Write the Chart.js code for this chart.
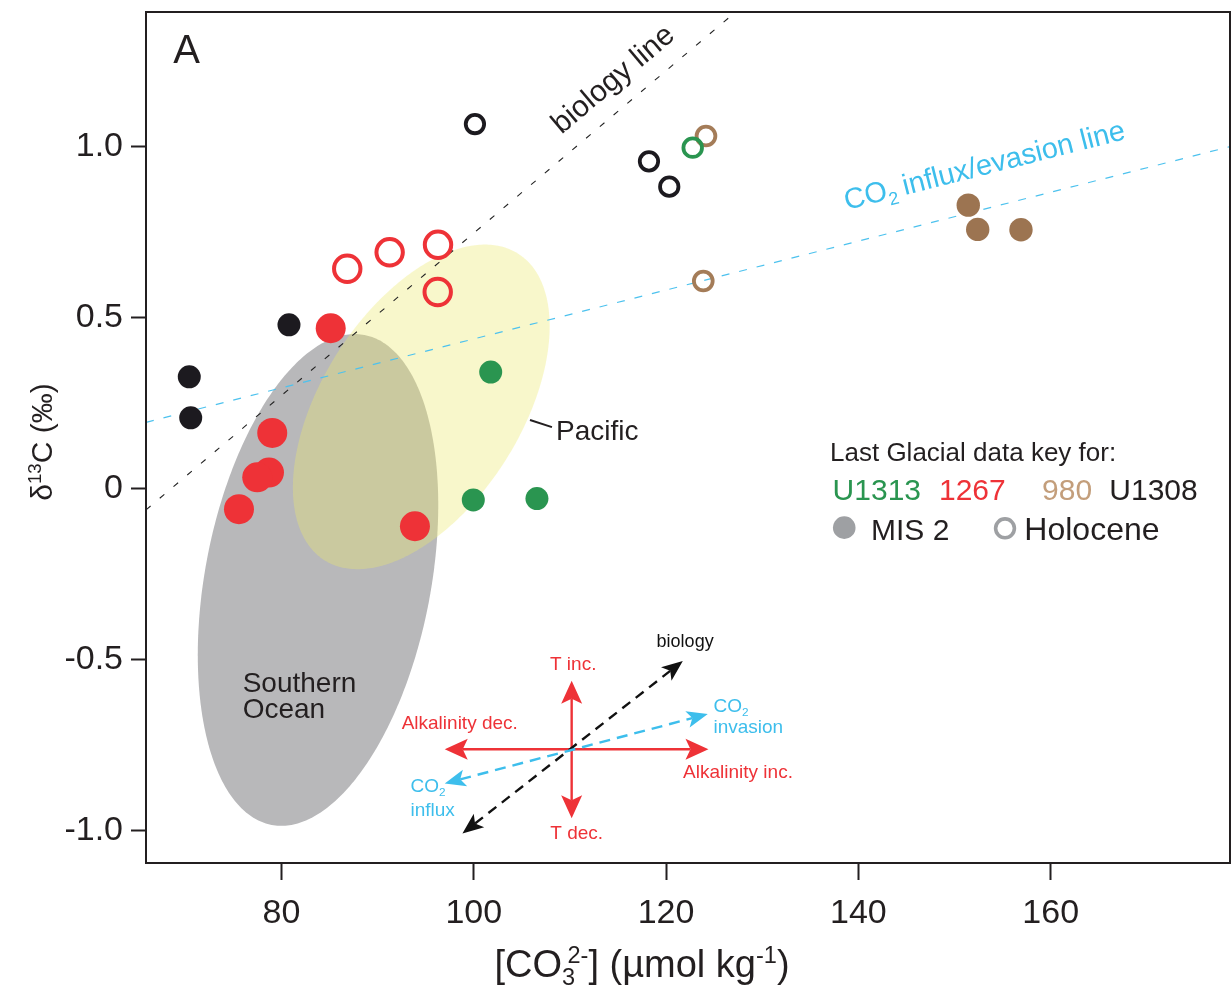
<!DOCTYPE html>
<html><head><meta charset="utf-8">
<script src="https://cdn.jsdelivr.net/npm/chart.js@4.4.1/dist/chart.umd.min.js"></script>
<style>html,body{margin:0;padding:0;background:#fff;overflow:hidden}#wrap{width:1231px;height:986px;position:relative}</style>
</head><body><div id="wrap"><canvas id="c"></canvas></div>
<script>
// ---------------- data ----------------
const xTickValues = [80, 100, 120, 140, 160];
const yTickValues = [-1.0, -0.5, 0, 0.5, 1.0];
const yTickLabels = ['-1.0', '-0.5', '0', '0.5', '1.0'];

// Last Glacial (MIS 2), filled symbols
const u1313MisX = [101.76, 99.95, 106.57];
const u1313MisY = [0.342, -0.032, -0.028];
const s1267MisX = [85.12, 79.04, 78.70, 77.48, 75.58, 93.88];
const s1267MisY = [0.470, 0.164, 0.048, 0.034, -0.059, -0.109];
const s980MisX = [151.43, 152.41, 156.91];
const s980MisY = [0.830, 0.759, 0.758];
const u1308MisX = [70.41, 70.56, 80.78];
const u1308MisY = [0.328, 0.208, 0.480];

// Holocene, open symbols
const u1313HolX = [122.77];
const u1313HolY = [0.998];
const s1267HolX = [86.84, 91.25, 96.28, 96.25];
const s1267HolY = [0.644, 0.692, 0.714, 0.576];
const s980HolX = [124.15, 123.87];
const s980HolY = [1.032, 0.608];
const u1308HolX = [100.12, 118.22, 120.33];
const u1308HolY = [1.067, 0.958, 0.884];

// reference lines (end points)
const biologyLineX = [65.91, 127.2];
const biologyLineY = [-0.061, 1.394];
const co2LineX = [65.91, 178.65];
const co2LineY = [0.195, 1.001];

// water-mass regions: centre, upper conjugate radius (u), horizontal conjugate radius (v)
const southernOcean = {cx: 83.80, cy: -0.266, ux: 3.81, uy: 0.719, vx: 11.91, vy: 0};
const pacific = {cx: 94.54, cy: 0.240, ux: 6.63, uy: 0.4746, vx: 11.59, vy: 0};

// ---------------- styles ----------------
const F = "'Liberation Sans', Arial, Helvetica, sans-serif";
const INK = '#231F20';
const RED = '#EE3237';
const GREEN = '#2A9550';
const BROWN = '#9C7451';
const BROWN_OPEN = '#A47C58';
const TAN = '#C39E7B';
const BLACK = '#1C1A1F';
const BLUE = '#3DBEEC';
const LEG_GRAY = '#9EA0A3';

const X_MIN = 65.91, X_MAX = 178.65, Y_MIN = -1.0936, Y_MAX = 1.3947;

function pts(xs, ys) { return xs.map((x, i) => ({x: x, y: ys[i]})); }
function fnt(sz, w) { return (w || 'normal') + ' ' + sz + 'px ' + F; }

function drawRich(ctx, parts, x, y, size, color, align) {
  let total = 0; const m = [];
  for (const p of parts) {
    const s = (p.sub || p.sup) ? size * 0.62 : size;
    ctx.font = fnt(s);
    const w = ctx.measureText(p.t).width;
    m.push({p, s, w});
    total += w + (p.dx || 0) * size;
  }
  let cx = align === 'center' ? x - total / 2 : (align === 'right' ? x - total : x);
  ctx.fillStyle = color; ctx.textBaseline = 'alphabetic'; ctx.textAlign = 'left';
  for (const {p, s, w} of m) {
    cx += (p.dx || 0) * size;
    ctx.font = fnt(s);
    const dy = p.sub ? size * 0.22 : (p.sup ? -size * 0.37 : 0);
    ctx.fillText(p.t, cx, y + dy);
    cx += w;
  }
}

function arrowHead(ctx, tx, ty, ang, len, hw, notch) {
  const c = Math.cos(ang), s = Math.sin(ang);
  const bx = tx - c * len, by = ty - s * len;
  ctx.beginPath();
  ctx.moveTo(tx, ty);
  ctx.lineTo(bx - s * hw, by + c * hw);
  ctx.lineTo(tx - c * (len - notch), ty - s * (len - notch));
  ctx.lineTo(bx + s * hw, by - c * hw);
  ctx.closePath();
  ctx.fill();
}

function doubleArrow(ctx, x1, y1, x2, y2, color, lw, dash, len, hw, notch) {
  const ang = Math.atan2(y2 - y1, x2 - x1);
  const c = Math.cos(ang), s = Math.sin(ang);
  ctx.save();
  ctx.strokeStyle = color; ctx.fillStyle = color; ctx.lineWidth = lw;
  ctx.setLineDash(dash);
  ctx.beginPath();
  ctx.moveTo(x1 + c * (len - notch), y1 + s * (len - notch));
  ctx.lineTo(x2 - c * (len - notch), y2 - s * (len - notch));
  ctx.stroke();
  ctx.setLineDash([]);
  arrowHead(ctx, x2, y2, ang, len, hw, notch);
  arrowHead(ctx, x1, y1, ang + Math.PI, len, hw, notch);
  ctx.restore();
}

const regionsPlugin = {
  id: 'regions',
  beforeDatasetsDraw(chart) {
    const ctx = chart.ctx, xs = chart.scales.x, ys = chart.scales.y, a = chart.chartArea;
    ctx.save();
    ctx.beginPath(); ctx.rect(a.left, a.top, a.right - a.left, a.bottom - a.top); ctx.clip();
    const drawEll = (e, fill) => {
      ctx.beginPath();
      for (let k = 0; k <= 360; k++) {
        const t = k / 360 * 2 * Math.PI;
        const px = xs.getPixelForValue(e.cx + e.ux * Math.cos(t) + e.vx * Math.sin(t));
        const py = ys.getPixelForValue(e.cy + e.uy * Math.cos(t) + e.vy * Math.sin(t));
        if (k === 0) ctx.moveTo(px, py); else ctx.lineTo(px, py);
      }
      ctx.closePath(); ctx.fillStyle = fill; ctx.fill();
    };
    drawEll(southernOcean, '#B8B8BA');
    drawEll(pacific, 'rgba(236,233,112,0.36)');
    ctx.restore();
  },
  afterDatasetsDraw(chart) {
    const ctx = chart.ctx, xs = chart.scales.x, ys = chart.scales.y;
    const P = (x, y) => [xs.getPixelForValue(x), ys.getPixelForValue(y)];
    ctx.save();
    // panel letter
    let p = P(68.75, 1.2465);
    ctx.font = fnt(40); ctx.fillStyle = INK; ctx.textAlign = 'left'; ctx.textBaseline = 'alphabetic';
    ctx.fillText('A', p[0], p[1]);

    // biology line label
    const b1 = P(biologyLineX[0], biologyLineY[0]), b2 = P(biologyLineX[1], biologyLineY[1]);
    const bang = Math.atan2(b2[1] - b1[1], b2[0] - b1[0]);
    p = P(114.53, 1.196);
    ctx.save(); ctx.translate(p[0], p[1]); ctx.rotate(bang);
    ctx.font = fnt(30); ctx.fillStyle = INK; ctx.textAlign = 'center'; ctx.textBaseline = 'middle';
    ctx.fillText('biology line', 0, 0);
    ctx.restore();

    // CO2 line label
    const c1 = P(co2LineX[0], co2LineY[0]), c2 = P(co2LineX[1], co2LineY[1]);
    const cang = Math.atan2(c2[1] - c1[1], c2[0] - c1[0]);
    p = P(138.78, 0.816);
    ctx.save(); ctx.translate(p[0], p[1]); ctx.rotate(cang);
    drawRich(ctx, [{t: 'CO'}, {t: '2', sub: 1}, {t: ' influx/evasion line', dx: -0.05}], 0, 0, 29, BLUE, 'left');
    ctx.restore();

    // Pacific label + leader
    const l1 = P(105.85, 0.2018), l2 = P(108.13, 0.181);
    ctx.strokeStyle = INK; ctx.lineWidth = 2;
    ctx.beginPath(); ctx.moveTo(l1[0], l1[1]); ctx.lineTo(l2[0], l2[1]); ctx.stroke();
    p = P(108.55, 0.143);
    ctx.font = fnt(28); ctx.fillStyle = INK; ctx.textAlign = 'left'; ctx.textBaseline = 'alphabetic';
    ctx.fillText('Pacific', p[0], p[1]);

    // Southern Ocean label
    p = P(75.96, -0.593); ctx.fillText('Southern', p[0], p[1]);
    p = P(75.96, -0.670); ctx.fillText('Ocean', p[0], p[1]);

    // legend key
    p = P(137.05, 0.0827); ctx.font = fnt(26); ctx.fillStyle = INK;
    ctx.fillText('Last Glacial data key for:', p[0], p[1]);
    ctx.font = fnt(30);
    p = P(137.32, -0.0322); ctx.fillStyle = GREEN; ctx.fillText('U1313', p[0], p[1]);
    p = P(148.38, -0.0322); ctx.fillStyle = RED; ctx.fillText('1267', p[0], p[1]);
    p = P(159.10, -0.0322); ctx.fillStyle = TAN; ctx.fillText('980', p[0], p[1]);
    p = P(166.10, -0.0322); ctx.fillStyle = INK; ctx.fillText('U1308', p[0], p[1]);
    p = P(138.53, -0.113);
    ctx.fillStyle = LEG_GRAY; ctx.beginPath(); ctx.arc(p[0], p[1], 11.3, 0, 2 * Math.PI); ctx.fill();
    p = P(141.31, -0.149); ctx.fillStyle = INK; ctx.fillText('MIS 2', p[0], p[1]);
    p = P(155.25, -0.115);
    ctx.strokeStyle = LEG_GRAY; ctx.lineWidth = 3.6; ctx.beginPath(); ctx.arc(p[0], p[1], 9.4, 0, 2 * Math.PI); ctx.stroke();
    p = P(157.26, -0.149); ctx.fillStyle = INK; ctx.font = fnt(32); ctx.fillText('Holocene', p[0], p[1]);

    // process diagram
    let q1 = P(96.98, -0.761), q2 = P(124.41, -0.761);
    doubleArrow(ctx, q1[0], q1[1], q2[0], q2[1], RED, 2.4, [], 23, 10.5, 5);
    q1 = P(110.18, -0.561); q2 = P(110.18, -0.963);
    doubleArrow(ctx, q1[0], q1[1], q2[0], q2[1], RED, 2.4, [], 23, 10.5, 5);
    q1 = P(98.82, -1.007); q2 = P(121.74, -0.503);
    doubleArrow(ctx, q1[0], q1[1], q2[0], q2[1], '#111', 2.4, [10, 7], 21, 8.5, 5);
    q1 = P(96.98, -0.861); q2 = P(124.34, -0.658);
    doubleArrow(ctx, q1[0], q1[1], q2[0], q2[1], BLUE, 2.4, [11, 7], 21, 8.5, 5);

    ctx.textBaseline = 'middle'; ctx.textAlign = 'center';
    ctx.font = fnt(18); ctx.fillStyle = '#111';
    p = P(121.98, -0.4465); ctx.fillText('biology', p[0], p[1]);
    ctx.font = fnt(19); ctx.fillStyle = RED;
    p = P(110.34, -0.5146); ctx.fillText('T inc.', p[0], p[1]);
    p = P(110.70, -1.0067); ctx.fillText('T dec.', p[0], p[1]);
    p = P(98.54, -0.687); ctx.fillText('Alkalinity dec.', p[0], p[1]);
    p = P(127.48, -0.831); ctx.fillText('Alkalinity inc.', p[0], p[1]);
    p = P(124.93, -0.6316);
    drawRich(ctx, [{t: 'CO'}, {t: '2', sub: 1}], p[0], p[1] + 7, 19, BLUE, 'left');
    p = P(124.93, -0.6968);
    ctx.font = fnt(19); ctx.fillStyle = BLUE; ctx.textAlign = 'left'; ctx.textBaseline = 'middle';
    ctx.fillText('invasion', p[0], p[1]);
    p = P(93.41, -0.8655);
    drawRich(ctx, [{t: 'CO'}, {t: '2', sub: 1}], p[0], p[1] + 7, 19, BLUE, 'left');
    p = P(93.41, -0.9406);
    ctx.font = fnt(19); ctx.fillStyle = BLUE; ctx.textAlign = 'left'; ctx.textBaseline = 'middle';
    ctx.fillText('influx', p[0], p[1]);
    ctx.restore();
  },
  afterDraw(chart) {
    const ctx = chart.ctx, a = chart.chartArea;
    ctx.save();
    ctx.strokeStyle = INK; ctx.lineWidth = 2;
    ctx.strokeRect(a.left, a.top, a.right - a.left, a.bottom - a.top);
    // x title
    drawRich(ctx, [{t: '[CO'}, {t: '3', sub: 1}, {t: '2-', sup: 1, dx: -0.2}, {t: '] (\u00B5mol kg'}, {t: '-1', sup: 1}, {t: ')'}],
      642, 977, 38, INK, 'center');
    // y title
    ctx.translate(52, 442); ctx.rotate(-Math.PI / 2);
    drawRich(ctx, [{t: '\u03B4'}, {t: '13', sup: 1}, {t: 'C (\u2030)'}], 0, 0, 30, INK, 'center');
    ctx.restore();
  }
};

const scatterDs = (label, xs, ys, color, r, open, bw) => ({
  label: label, type: 'scatter', data: pts(xs, ys), order: 1,
  pointRadius: r, pointHoverRadius: r,
  pointBackgroundColor: open ? 'rgba(0,0,0,0)' : color,
  pointBorderColor: color, pointBorderWidth: open ? bw : 0
});

const datasets = [
  scatterDs('U1313 MIS 2', u1313MisX, u1313MisY, GREEN, 11.5, false),
  scatterDs('1267 MIS 2', s1267MisX, s1267MisY, RED, 15, false),
  scatterDs('980 MIS 2', s980MisX, s980MisY, BROWN, 11.7, false),
  scatterDs('U1308 MIS 2', u1308MisX, u1308MisY, BLACK, 11.5, false),
  scatterDs('U1313 Holocene', u1313HolX, u1313HolY, GREEN, 9.3, true, 3.8),
  scatterDs('1267 Holocene', s1267HolX, s1267HolY, RED, 13.2, true, 4),
  scatterDs('980 Holocene', s980HolX, s980HolY, BROWN_OPEN, 9.4, true, 3.8),
  scatterDs('U1308 Holocene', u1308HolX, u1308HolY, BLACK, 9.2, true, 3.8),
  {label: 'biology line', type: 'line', data: pts(biologyLineX, biologyLineY), order: 5,
   borderColor: '#222', borderWidth: 1.1, borderDash: [6, 12], pointRadius: 0, fill: false, tension: 0},
  {label: 'CO2 influx/evasion line', type: 'line', data: pts(co2LineX, co2LineY), order: 5,
   borderColor: '#4DC2EE', borderWidth: 1.2, borderDash: [8, 10], pointRadius: 0, fill: false, tension: 0}
];

const zeroPad = s => { s.paddingTop = 0; s.paddingBottom = 0; s.paddingLeft = 0; s.paddingRight = 0; };

new Chart(document.getElementById('c'), {
  type: 'scatter',
  data: {datasets: datasets},
  options: {
    responsive: true, maintainAspectRatio: false, animation: false, events: [],
    layout: {autoPadding: false, padding: {left: 0, right: 1, top: 12, bottom: 0}},
    plugins: {legend: {display: false}, tooltip: {enabled: false}, title: {display: false}},
    scales: {
      x: {
        type: 'linear', position: 'bottom', min: X_MIN, max: X_MAX,
        afterBuildTicks: s => { s.ticks = xTickValues.map(v => ({value: v})); },
        afterFit: s => { s.height = 123; zeroPad(s); },
        border: {display: false},
        grid: {drawOnChartArea: false, drawTicks: true, tickLength: 17, tickColor: INK, tickWidth: 2},
        ticks: {font: {family: F, size: 34}, color: INK, padding: 13, maxRotation: 0, autoSkip: false,
                callback: v => String(v)}
      },
      y: {
        type: 'linear', position: 'left', min: Y_MIN, max: Y_MAX,
        afterBuildTicks: s => { s.ticks = yTickValues.map(v => ({value: v})); },
        afterFit: s => { s.width = 146; zeroPad(s); },
        border: {display: false},
        grid: {drawOnChartArea: false, drawTicks: true, tickLength: 15, tickColor: INK, tickWidth: 2},
        ticks: {font: {family: F, size: 34}, color: INK, padding: 8, autoSkip: false,
                callback: v => { const i = yTickValues.indexOf(v); return i >= 0 ? yTickLabels[i] : ''; }}
      }
    }
  },
  plugins: [regionsPlugin]
});
</script>
</body></html>
